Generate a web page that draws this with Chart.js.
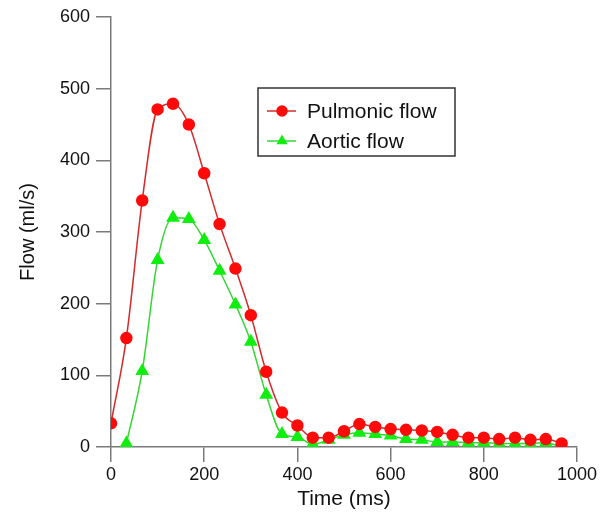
<!DOCTYPE html>
<html>
<head>
<meta charset="utf-8">
<script src="https://cdn.jsdelivr.net/npm/chart.js@4.4.1/dist/chart.umd.min.js"></script>
<style>
  html, body { margin: 0; padding: 0; background: #fff; }
  #wrap { width: 613px; height: 519px; position: relative; }
</style>
</head>
<body>
<div id="wrap"><canvas id="flowChart"></canvas></div>
<script>
// time points (ms)
const pulmonicTimes = [0, 33, 67, 100, 133, 167, 200, 233, 267, 300, 333, 367, 400, 433, 467,
    500, 533, 567, 600, 633, 667, 700, 733, 767, 800, 833, 867, 900, 933, 967];
const pulmonicFlow = [33, 152, 344, 471, 479, 450, 382, 311, 249, 184, 105, 48, 30, 13, 13,
    22, 32, 28, 25, 24, 23, 21, 17, 13, 13, 11, 13, 10, 11, 5];

const aorticTimes = [33, 67, 100, 133, 167, 200, 233, 267, 300, 333, 367, 400, 433, 467,
    500, 533, 567, 600, 633, 667, 700, 733, 767, 800, 833, 867, 900, 933, 967];
const aorticFlow = [5, 106, 261, 320, 318, 289, 246, 199, 147, 73, 18, 14, 4, 10,
    17, 20, 18, 16, 11, 10, 7, 7, 6, 6, 5, 5, 5, 6, 0];

const seriesNames = ['Pulmonic flow', 'Aortic flow'];
const xTitle = 'Time (ms)';
const yTitle = 'Flow (ml/s)';

const FONT = "'Liberation Sans', Arial, sans-serif";
const axisColor = '#7a7a7a';

const toPoints = (xs, ys) => xs.map((x, i) => ({ x: x, y: ys[i] }));

// boxed legend drawn inside the plot area
const boxLegend = {
    id: 'boxLegend',
    afterDraw(chart) {
        const ctx = chart.ctx;
        const area = chart.chartArea;
        const left = area.left + 147;
        const top = area.top + 71;
        const w = 197, h = 68;
        ctx.save();
        ctx.strokeStyle = '#333';
        ctx.lineWidth = 1.5;
        ctx.strokeRect(left, top, w, h);
        ctx.font = '21px ' + FONT;
        ctx.textBaseline = 'middle';
        chart.data.datasets.forEach((ds, i) => {
            const y = top + 23 + i * 30;
            ctx.strokeStyle = ds.borderColor;
            ctx.lineWidth = 1.5;
            ctx.beginPath();
            ctx.moveTo(left + 9, y);
            ctx.lineTo(left + 38, y);
            ctx.stroke();
            ctx.fillStyle = ds.pointBackgroundColor;
            ctx.strokeStyle = ds.pointBackgroundColor;
            Chart.helpers.drawPoint(ctx, { pointStyle: ds.pointStyle, radius: 5, rotation: 0, borderWidth: 1 }, left + 24, y);
            ctx.fillStyle = '#111';
            ctx.fillText(ds.label, left + 49, y + 1);
        });
        ctx.restore();
    }
};

new Chart(document.getElementById('flowChart').getContext('2d'), {
    type: 'line',
    data: {
        datasets: [
            {
                label: seriesNames[0],
                data: toPoints(pulmonicTimes, pulmonicFlow),
                borderColor: '#d42a2a',
                borderWidth: 1.5,
                pointStyle: 'circle',
                pointRadius: 5.5,
                pointBackgroundColor: '#ff0a0a',
                pointBorderColor: '#ff0a0a',
                cubicInterpolationMode: 'monotone'
            },
            {
                label: seriesNames[1],
                data: toPoints(aorticTimes, aorticFlow),
                borderColor: '#33d633',
                borderWidth: 1.5,
                pointStyle: 'triangle',
                pointRadius: 6.5,
                pointBackgroundColor: '#10ee10',
                pointBorderColor: '#10ee10',
                cubicInterpolationMode: 'monotone'
            }
        ]
    },
    options: {
        responsive: true,
        maintainAspectRatio: false,
        animation: false,
        layout: { padding: { left: 0, right: 36, top: 17, bottom: 0 } },
        plugins: {
            legend: { display: false },
            tooltip: { enabled: false }
        },
        scales: {
            x: {
                type: 'linear',
                min: 0,
                max: 1000,
                afterFit: s => { s.height = 72; },
                ticks: { stepSize: 200, color: '#111', padding: 2, font: { family: FONT, size: 18 }, callback: v => String(v) },
                grid: { drawOnChartArea: false, drawTicks: true, tickLength: 15, color: axisColor, lineWidth: 1.5 },
                border: { display: true, color: axisColor, width: 1.5 },
                title: { display: true, text: xTitle, color: '#111', font: { family: FONT, size: 21 }, padding: { top: 0, bottom: 7 } }
            },
            y: {
                min: 0,
                max: 600,
                afterFit: s => { s.width = 111; },
                ticks: { stepSize: 100, color: '#111', padding: 6, font: { family: FONT, size: 18 }, callback: v => String(v) },
                grid: { drawOnChartArea: false, drawTicks: true, tickLength: 15, color: axisColor, lineWidth: 1.5 },
                border: { display: true, color: axisColor, width: 1.5 },
                title: { display: true, text: yTitle, color: '#111', font: { family: FONT, size: 20 }, padding: { top: 16, bottom: 0 } }
            }
        }
    },
    plugins: [boxLegend]
});
</script>
</body>
</html>
